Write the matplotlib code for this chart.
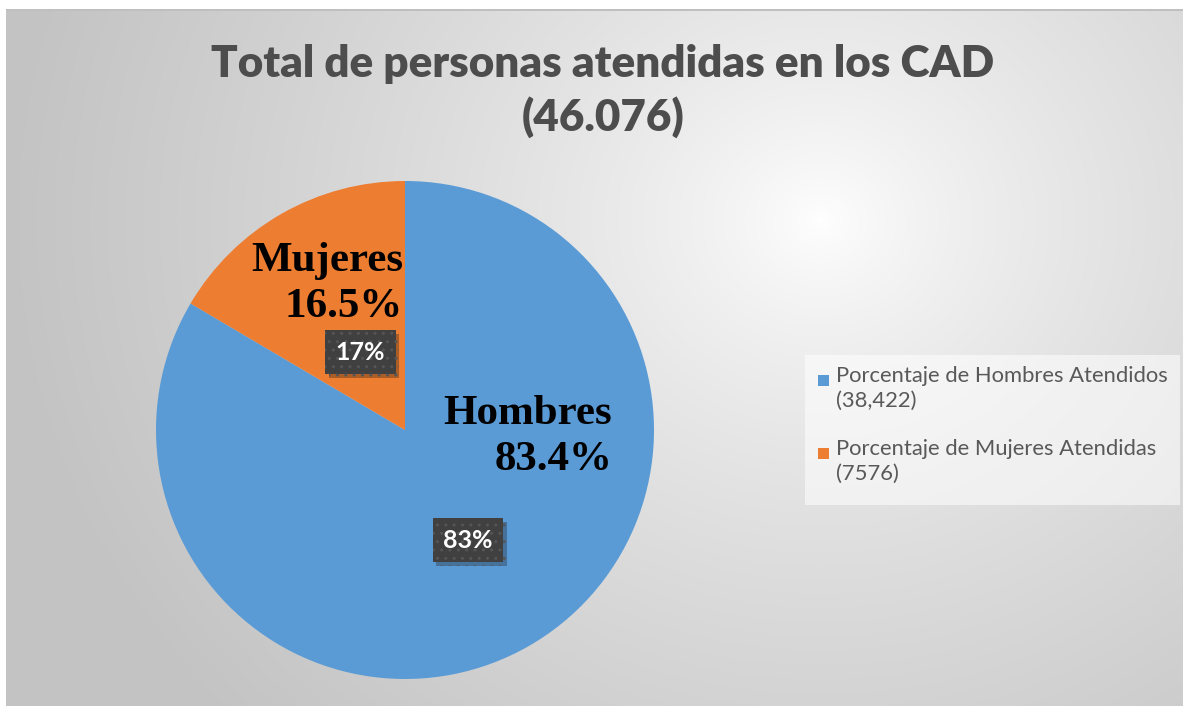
"""
Pie chart: total de personas atendidas en los CAD
"""
import numpy as np
import matplotlib.pyplot as plt
from matplotlib.patches import Rectangle
import matplotlib.patheffects as pe

# data (slice values are the percentages shown on the chart)
categories = ['Hombres', 'Mujeres']
values = [83.4, 16.5]
colors = ['#5B9BD5', '#ED7D31']
legend_labels = ['Porcentaje de Hombres Atendidos\n(38,422)',
                 'Porcentaje de Mujeres Atendidas\n(7576)']
overlay_pcts = ['83.4%', '16.5%']
title = 'Total de personas atendidas en los CAD\n(46.076)'

W, H = 1183, 706
fig = plt.figure(figsize=(W / 100, H / 100), dpi=100)
fig.patch.set_facecolor('white')

# background: chart area with soft radial gradient
bg = fig.add_axes([6 / W, 0, (W - 6) / W, (H - 10) / H])
bg.set_axis_off()
yy, xx = np.mgrid[10:H, 6:W]
d = np.sqrt(((xx - 820) / 1.0) ** 2 + ((yy - 220) / 0.9) ** 2)
g = 255 - 60 * np.clip(d / 820, 0, 1) ** 0.75
img = np.dstack([g, g, g]) / 255.0
bg.imshow(img, aspect='auto', interpolation='bilinear')
fig.add_artist(Rectangle((6 / W, (H - 11) / H), (W - 6) / W, 1.5 / H,
                         transform=fig.transFigure, color='#bfbfbf', lw=0))

# title
fig.text(603 / W, 1 - 91 / H, title, ha='center', va='center',
         fontsize=31.7, fontweight='heavy', color='#4d4d4d', family='Lato',
         linespacing=1.35)

# pie
cx, cy, r = 405, 430, 249
ax = fig.add_axes([(cx - r) / W, (H - cy - r) / H, 2 * r / W, 2 * r / H])
wedges, texts, autotexts = ax.pie(values, colors=colors, startangle=90,
                                  counterclock=False, radius=1,
                                  autopct='%1.0f%%', pctdistance=0.51,
                                  wedgeprops=dict(linewidth=0))
ax.set_xlim(-1, 1)
ax.set_ylim(-1, 1)
ax.set_aspect('equal')

for i, (w, t) in enumerate(zip(wedges, autotexts)):
    ang = np.deg2rad((w.theta1 + w.theta2) / 2)
    dist = 0.51 if i == 0 else 0.36
    t.set_position((dist * np.cos(ang), dist * np.sin(ang)))
    t.set_color('white')
    t.set_fontweight('bold')
    t.set_fontsize(18)
    t.set_family('Lato')
    t.set_bbox(dict(boxstyle='square,pad=0.42', fc='#404040', ec='#555555',
                    lw=0, hatch='..'))
    t.get_bbox_patch().set_path_effects(
        [pe.SimplePatchShadow(offset=(2.5, -2.5), alpha=0.3), pe.Normal()])

# big serif annotations
ax.text((612 - cx) / r, (cy - 437) / r, f'{categories[0]}\n{overlay_pcts[0]}',
        ha='right', va='center', multialignment='right',
        fontsize=31, fontweight='bold', family='Liberation Serif',
        color='black', linespacing=1.3)
ax.text((403 - cx) / r, (cy - 284) / r, f'{categories[1]}\n{overlay_pcts[1]}',
        ha='right', va='center', multialignment='right',
        fontsize=31, fontweight='bold', family='Liberation Serif',
        color='black', linespacing=1.26)

# legend (drawn by hand so the swatch sits beside the first line)
fig.add_artist(Rectangle((805 / W, 1 - 505 / H), 375 / W, 150 / H,
                         transform=fig.transFigure, fc='white', alpha=0.55,
                         lw=0))
for i, (lab, c) in enumerate(zip(legend_labels, colors)):
    ytop = 366 + i * 73
    fig.add_artist(Rectangle((818 / W, 1 - (ytop + 20) / H), 11 / W, 11 / H,
                             transform=fig.transFigure, fc=c, lw=0))
    fig.text(836 / W, 1 - ytop / H, lab, ha='left', va='top',
             fontsize=15.8, family='Lato', color='#595959', linespacing=1.3)

plt.savefig('out.png', dpi=100)
